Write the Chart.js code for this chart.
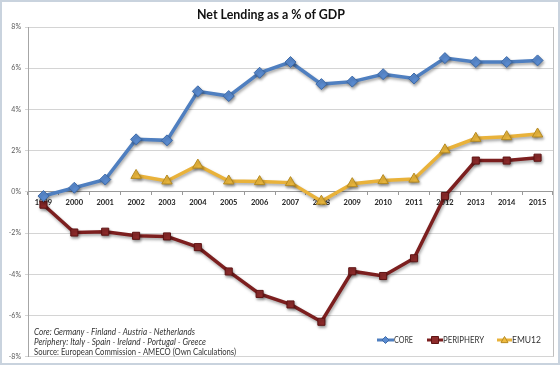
<!DOCTYPE html>
<html><head><meta charset="utf-8">
<script src="https://cdn.jsdelivr.net/npm/chart.js@4"></script>
<style>html,body{margin:0;padding:0;background:#fff}#wrap{width:560px;height:365px;position:relative}</style>
</head><body><div id="wrap"><canvas id="c" width="560" height="365"></canvas></div>
<script>
const years = ['1999','2000','2001','2002','2003','2004','2005','2006','2007','2008','2009','2010','2011','2012','2013','2014','2015'];
const core = [-0.2,0.2,0.6,2.55,2.5,4.88,4.65,5.78,6.3,5.23,5.35,5.71,5.5,6.49,6.3,6.3,6.38];
const periphery = [-0.62,-1.97,-1.93,-2.13,-2.16,-2.68,-3.86,-4.95,-5.46,-6.3,-3.85,-4.08,-3.22,-0.2,1.52,1.52,1.66];
const emu12 = [null,null,null,0.8,0.53,1.3,0.53,0.5,0.45,-0.45,0.4,0.55,0.62,2.04,2.6,2.68,2.81];
const seriesNames = ['CORE','PERIPHERY','EMU12'];
const yTicks = [-8,-6,-4,-2,0,2,4,6,8];
const titleText = 'Net Lending as a % of GDP';
const notes = ['Core: Germany - Finland - Austria - Netherlands','Periphery: Italy - Spain - Ireland - Portugal - Greece','Source: European Commission - AMECO (Own Calculations)'];

const FONT = 'Lato, "Open Sans", "Liberation Sans", sans-serif';

function drawMarker(ctx, style, x, y, r, fill, stroke){
  ctx.beginPath();
  if(style==='rectRot'){ctx.moveTo(x,y-r);ctx.lineTo(x+r,y);ctx.lineTo(x,y+r);ctx.lineTo(x-r,y);}
  else if(style==='rect'){ctx.rect(x-r,y-r,2*r,2*r);}
  else {ctx.moveTo(x,y-r);ctx.lineTo(x+r,y+r*0.75);ctx.lineTo(x-r,y+r*0.75);}
  ctx.closePath();ctx.fillStyle=fill;ctx.fill();ctx.lineWidth=1;ctx.strokeStyle=stroke;ctx.stroke();
}

const extras = {
  id:'extras',
  beforeDatasetDraw(chart){
    const ctx=chart.ctx;ctx.save();
    ctx.shadowColor='rgba(0,0,0,0.35)';ctx.shadowOffsetX=1;ctx.shadowOffsetY=2;ctx.shadowBlur=3;
  },
  afterDatasetDraw(chart){chart.ctx.restore();},
  afterDraw(chart){
    const ctx=chart.ctx, a=chart.chartArea;
    ctx.save();
    ctx.strokeStyle='#bfbfbf';ctx.lineWidth=1;
    ctx.beginPath();ctx.moveTo(Math.round(a.right)+0.5,a.top);ctx.lineTo(Math.round(a.right)+0.5,a.bottom);ctx.stroke();
    ctx.strokeStyle='#c9d3de';ctx.lineWidth=2;ctx.strokeRect(1,1,558,363);
    ctx.fillStyle='#111';ctx.textAlign='center';ctx.textBaseline='middle';
    ctx.font='bold 13px '+FONT;ctx.fillText(titleText,271,15,148);
    ctx.textAlign='left';ctx.fillStyle='#333';
    ctx.font='italic 9px '+FONT;ctx.fillText(notes[0],34,332,161);ctx.fillText(notes[1],34,342,172);
    ctx.font='9px '+FONT;ctx.fillText(notes[2],34,352.5,202);
    const items=[{x1:377,x2:394,tw:19},{x1:427,x2:443,tw:41},{x1:497,x2:512,tw:29}];
    chart.data.datasets.forEach((ds,i)=>{
      const it=items[i], y=340;
      ctx.strokeStyle=ds.borderColor;ctx.lineWidth=3;
      ctx.beginPath();ctx.moveTo(it.x1,y);ctx.lineTo(it.x2,y);ctx.stroke();
      drawMarker(ctx,ds.pointStyle,(it.x1+it.x2)/2,y,3.5,ds.pointBackgroundColor,ds.pointBorderColor);
      ctx.fillStyle='#333';ctx.font='9px '+FONT;ctx.textBaseline='middle';ctx.textAlign='left';
      ctx.fillText(ds.label,it.x2,y,it.tw);
    });
    ctx.restore();
  }
};

new Chart(document.getElementById('c'),{
  type:'line',
  data:{labels:years,datasets:[
    {label:seriesNames[0],data:core,borderColor:'#4f7fc0',borderWidth:3.5,pointStyle:'rectRot',pointRadius:5.5,pointBackgroundColor:'#5a8bd0',pointBorderColor:'#3d6aa8',pointBorderWidth:1,tension:0},
    {label:seriesNames[1],data:periphery,borderColor:'#7c1f1f',borderWidth:3.5,pointStyle:'rect',pointRadius:5,pointBackgroundColor:'#8e2b2b',pointBorderColor:'#5e1414',pointBorderWidth:1,tension:0},
    {label:seriesNames[2],data:emu12,borderColor:'#e9b23a',borderWidth:3.5,pointStyle:'triangle',pointRadius:6,pointBackgroundColor:'#f0bb3e',pointBorderColor:'#b58a22',pointBorderWidth:1,tension:0}
  ]},
  options:{
    responsive:false,devicePixelRatio:1,animation:false,
    layout:{padding:{top:27,bottom:3,left:0,right:2}},
    plugins:{legend:{display:false},title:{display:false},tooltip:{enabled:false}},
    scales:{
      y:{min:-8,max:8,afterBuildTicks:s=>{s.ticks=yTicks.map(v=>({value:v}));},
        afterFit:s=>{s.width=28;},
        ticks:{callback:v=>v+'%',font:{size:7,family:FONT},color:'#595959',padding:4},
        grid:{color:'#d4d4d4',tickLength:3},border:{color:'#a6a6a6'}},
      x:{type:'category',position:{y:0},offset:true,
        ticks:{font:{size:7.5,weight:'bold',family:FONT},color:'#222',padding:3,maxRotation:0,autoSkip:false},
        grid:{drawOnChartArea:false,offset:true,tickLength:3,color:'#999'},border:{color:'#999'}}
    }
  },
  plugins:[extras]
});
</script></body></html>
